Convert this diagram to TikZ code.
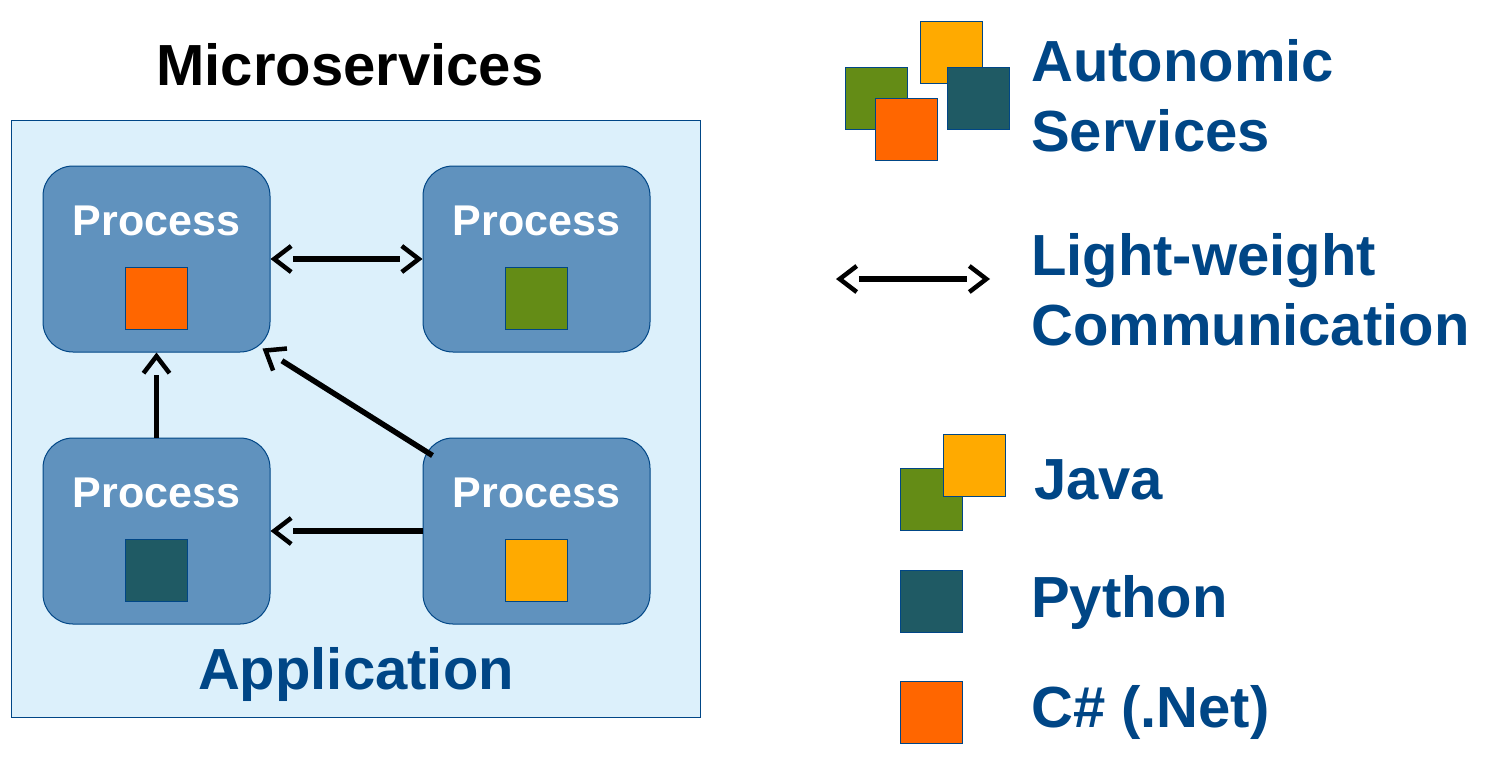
\documentclass[tikz,border=0pt]{standalone}
\usepackage{fontspec}
\setmainfont{Liberation Sans}
\usetikzlibrary{arrows.meta}
\definecolor{appfill}{RGB}{220,240,251}
\definecolor{procfill}{RGB}{96,146,190}
\definecolor{darkblue}{RGB}{0,70,134}
\definecolor{javagreen}{RGB}{100,140,22}
\definecolor{pyteal}{RGB}{31,90,100}
\definecolor{csorange}{RGB}{255,102,0}
\definecolor{javayellow}{RGB}{255,170,0}
\begin{document}
\begin{tikzpicture}[x=1pt, y=-1pt,
    appbox/.style={draw=darkblue, line width=1pt, fill=appfill, minimum width=689pt, minimum height=597pt, anchor=north west, inner sep=0pt},
    procbox/.style={draw=darkblue, line width=1pt, fill=procfill, rounded corners=30pt, minimum width=227pt, minimum height=186pt, inner sep=0pt},
    proctext/.style={anchor=base, inner sep=0pt, text=white, font=\fontsize{43}{50}\selectfont\bfseries},
    lang/.style={draw=darkblue, line width=1pt, minimum size=62pt, inner sep=0pt},
    bigtext/.style={inner sep=0pt, text=darkblue, font=\fontsize{58}{70}\selectfont\bfseries},
    barb/.tip={Straight Barb[length=17pt, width=26pt, line width=4.5pt]},
    conn/.style={line width=5.5pt, -{.[]barb[]}},
    biconn/.style={line width=5.5pt, {barb[].}-{.[]barb[]}}]
    \useasboundingbox (0,0) rectangle (1490,761);

    % application with its processes
    \node[bigtext, text=black, anchor=base] (title) at (350,85) {Microservices};
    \node[appbox] (app) at (11,120) {};
    \node[procbox] (p1) at (156.5,259) {};
    \node[procbox] (p2) at (536.5,259) {};
    \node[procbox] (p3) at (156.5,531) {};
    \node[procbox] (p4) at (536.5,531) {};
    \foreach \p/\c in {p1/csorange, p2/javagreen, p3/pyteal, p4/javayellow} {
        \node[proctext] (\p t) at ([shift={(0,-24)}]\p.center) {Process};
        \node[lang, fill=\c] (\p s) at ([shift={(0,39)}]\p.center) {};
    }
    \node[bigtext, anchor=base] (appname) at (356,689) {Application};

    \draw[biconn] (p1.east) -- (p2.west);
    \draw[conn] (p3.north) -- (p1.south);
    \draw[conn] ([shift={(10,18)}]p4.north west) -- ([shift={(-8,-4)}]p1.south east);
    \draw[conn] (p4.west) -- (p3.east);

    % legend
    \node[lang, fill=javayellow] (a1) at (951,52.5) {};
    \node[lang, fill=javagreen] (a2) at (876,98.5) {};
    \node[lang, fill=pyteal] (a3) at (978,98.5) {};
    \node[lang, fill=csorange] (a4) at (906,129.5) {};
    \node[bigtext, anchor=base west] (auto1) at (1031,81) {Autonomic};
    \node[bigtext, anchor=base west] (auto2) at (1031,151) {Services};

    \coordinate (l1) at (836,279);
    \coordinate (l2) at (990,279);
    \draw[biconn] (l1) -- (l2);
    \node[bigtext, anchor=base west] (comm1) at (1031,275) {Light-weight};
    \node[bigtext, anchor=base west] (comm2) at (1031,345) {Communication};

    \node[lang, fill=javagreen] (j1) at (931.5,499) {};
    \node[lang, fill=javayellow] (j2) at (974,465) {};
    \node[bigtext, anchor=base west] (java) at (1034,499) {Java};
    \node[lang, fill=pyteal] (py) at (931.5,601) {};
    \node[bigtext, anchor=base west] (python) at (1031,617) {Python};
    \node[lang, fill=csorange] (cs) at (931.5,712) {};
    \node[bigtext, anchor=base west] (net) at (1031,727) {C\# (.Net)};
\end{tikzpicture}
\end{document}
